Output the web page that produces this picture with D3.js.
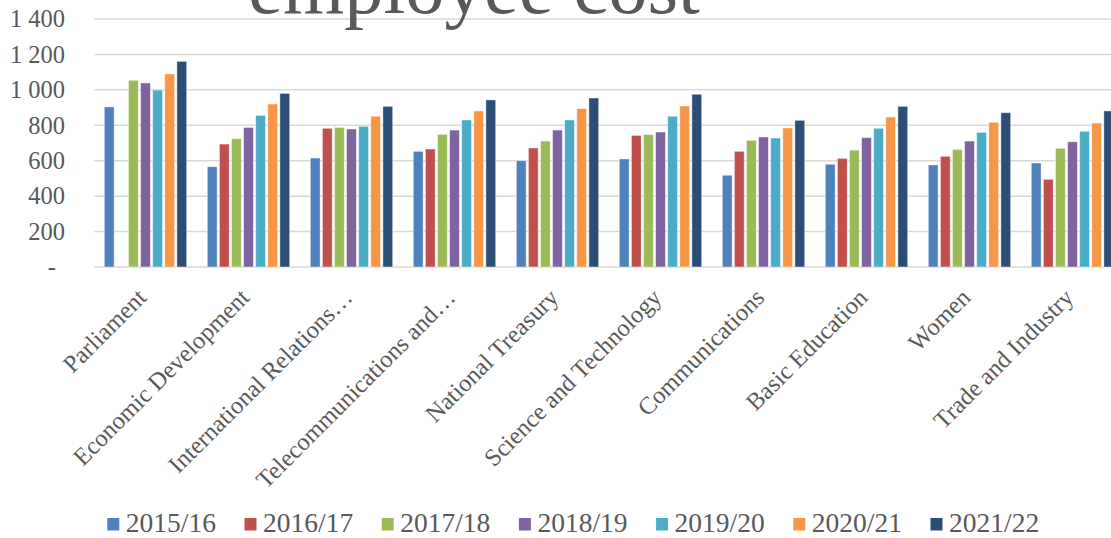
<!DOCTYPE html>
<html>
<head>
<meta charset="utf-8">
<title>employee cost</title>
<script src="https://cdn.jsdelivr.net/npm/d3@7"></script>
<style>
  body { margin: 0; background: #fff; }
  svg text { font-family: "Liberation Serif", "Times New Roman", serif; fill: #595959; }
</style>
</head>
<body>
<script>
var categories = ["Parliament", "Economic Development", "International Relations\u2026",
  "Telecommunications and\u2026", "National Treasury", "Science and Technology",
  "Communications", "Basic Education", "Women", "Trade and Industry"];

var years = ["2015/16", "2016/17", "2017/18", "2018/19", "2019/20", "2020/21", "2021/22"];

var y2015 = [904, 566, 615, 653, 600, 610, 518, 580, 576, 587];
var y2016 = [null, 694, 783, 666, 672, 743, 653, 613, 625, 495];
var y2017 = [1054, 724, 788, 749, 711, 747, 715, 660, 664, 670];
var y2018 = [1039, 788, 779, 773, 773, 762, 734, 730, 711, 707];
var y2019 = [999, 856, 794, 830, 830, 851, 728, 783, 760, 766];
var y2020 = [1090, 920, 851, 881, 894, 909, 785, 847, 817, 813];
var y2021 = [1161, 980, 907, 943, 954, 975, 828, 907, 871, 881];

var series = [y2015, y2016, y2017, y2018, y2019, y2020, y2021];
var colours = ["#4f81bd", "#c0504d", "#9bbb59", "#8064a2", "#4bacc6", "#f79646", "#2c4d75"];
var yTicks = [0, 200, 400, 600, 800, 1000, 1200, 1400];

var w = 1111, h = 538;
var margin = {top: 19, left: 94.3, bottom: 267};
var plotRight = margin.left + 1030;

var svg = d3.select("body").append("svg")
  .attr("width", w).attr("height", h);

var x0 = d3.scaleBand().domain(categories).range([margin.left, plotRight]).padding(0);
var x1 = d3.scaleBand().domain(d3.range(years.length))
  .range([10, x0.bandwidth() - 10.6]).paddingInner(0.19).paddingOuter(0);
var y = d3.scaleLinear().domain([0, 1400]).range([margin.bottom, margin.top]);

var loc = d3.formatLocale({decimal: ".", thousands: " ", grouping: [3], currency: ["", ""]});
var fmt = loc.format(",d");

// gridlines
svg.append("g").selectAll("line")
  .data(yTicks).enter().append("line")
  .attr("x1", margin.left).attr("x2", plotRight)
  .attr("y1", function(d) { return y(d); })
  .attr("y2", function(d) { return y(d); })
  .attr("stroke", "#d9d9d9")
  .attr("stroke-width", 1.5);

// y axis labels
var yAxis = d3.axisLeft(y).tickValues(yTicks).tickSize(0).tickPadding(0)
  .tickFormat(function(d) { return d === 0 ? "-" : fmt(d); });
var gy = svg.append("g").attr("transform", "translate(65,0)").call(yAxis);
gy.select(".domain").remove();
gy.selectAll("text")
  .attr("font-size", 24.5)
  .attr("fill", "#595959")
  .attr("font-family", "Liberation Serif")
  .attr("dx", function(d) { return d === 0 ? -9 : 0; });

// bars
for (var k = 0; k < series.length; k++) {
  svg.append("g").selectAll("rect")
    .data(series[k].map(function(v, i) { return {c: categories[i], v: v}; })
      .filter(function(d) { return d.v != null; }))
    .enter().append("rect")
    .attr("x", function(d) { return x0(d.c) + x1(k); })
    .attr("y", function(d) { return y(d.v); })
    .attr("width", x1.bandwidth())
    .attr("height", function(d) { return y(0) - y(d.v); })
    .attr("fill", colours[k])
    .attr("stroke", "rgba(255,255,255,0.55)")
    .attr("stroke-width", 0.8);
}

// x labels
svg.append("g").selectAll("text")
  .data(categories).enter().append("text")
  .attr("transform", function(d) {
    return "translate(" + (x0(d) + x0.bandwidth() / 2 + 2) + ",299) rotate(-45)";
  })
  .attr("text-anchor", "end")
  .attr("font-size", 24.5)
  .text(function(d) { return d; });

// title (cut off at the top, as in the original)
svg.append("text")
  .attr("x", 474).attr("y", 13)
  .attr("text-anchor", "middle")
  .attr("font-size", 78.6)
  .attr("fill", "#595959")
  .text("employee cost");

// legend
var leg = svg.append("g").selectAll("g")
  .data(years).enter().append("g")
  .attr("transform", function(d, i) { return "translate(" + (107.3 + i * 137.2) + ",518)"; });
leg.append("rect")
  .attr("width", 12).attr("height", 12.5)
  .attr("fill", function(d, i) { return colours[i]; });
leg.append("text")
  .attr("x", 18.5).attr("y", 13.5)
  .attr("font-size", 27.5)
  .text(function(d) { return d; });
</script>
</body>
</html>
